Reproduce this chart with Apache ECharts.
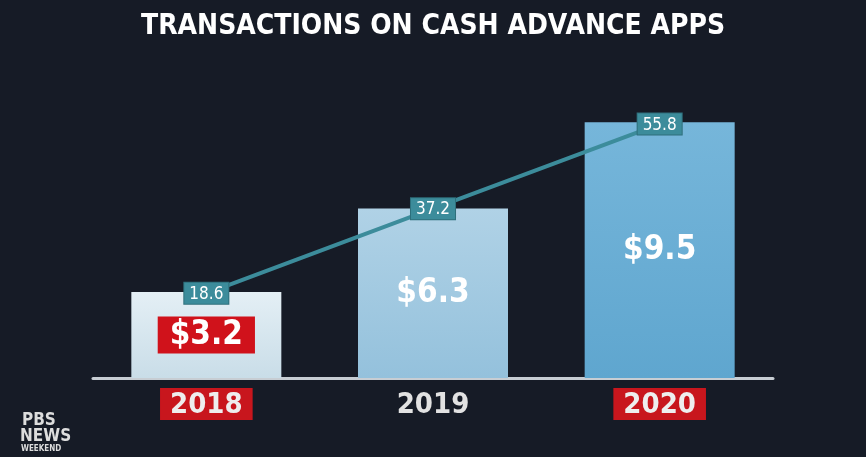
<!DOCTYPE html>
<html><head><meta charset="utf-8">
<script src="https://cdn.jsdelivr.net/npm/echarts@6/dist/echarts.min.js"></script>
<style>html,body{margin:0;background:#161b26}#c{width:866px;height:457px}</style>
</head><body><div id="c"></div>
<script>
const years = ['2018','2019','2020'];
const dollars = [3.2, 6.3, 9.5];
const transactions = [18.6, 37.2, 55.8];
const barColors = [['#e4eff5','#c9dde8'],['#b0d2e6','#94c1dc'],['#76b6da','#5fa6cf']];
const chart = echarts.init(document.getElementById('c'));
const F = 'DejaVu Sans Condensed, Roboto, sans-serif';
chart.setOption({
  backgroundColor: '#161b26',
  animation: false,
  title: {text: 'TRANSACTIONS ON CASH ADVANCE APPS', left: 'center', top: 8,
    textStyle: {color: '#fff', fontSize: 28, fontWeight: 'bold', fontFamily: F}},
  graphic: [
    {type: 'text', left: 22, top: 412, style: {text: 'PBS', fill: '#ddd', font: 'bold 17px ' + F}},
    {type: 'text', left: 20, top: 428, style: {text: 'NEWS', fill: '#ddd', font: 'bold 17px ' + F}},
    {type: 'text', left: 21, top: 445, style: {text: 'WEEKEND', fill: '#ddd', font: 'bold 8px ' + F}}
  ],
  grid: {left: 93, right: 93, top: 100, bottom: 79},
  xAxis: {type: 'category', data: years,
    axisLine: {lineStyle: {color: '#c7cdd3', width: 3}}, axisTick: {show: false},
    axisLabel: {margin: 10, fontSize: 29, fontWeight: 'bold', fontFamily: F,
      formatter: v => v === '2019' ? '{p|' + v + '}' : '{r|' + v + '}',
      rich: {r: {color: '#eee', backgroundColor: '#c8161d', padding: [3, 10, 0, 10], fontSize: 29, fontWeight: 'bold', fontFamily: F},
             p: {color: '#e2e2e2', padding: [3, 10, 0, 10], fontSize: 29, fontWeight: 'bold', fontFamily: F}}}},
  yAxis: [
    {type: 'value', min: 0, max: 10.33, show: false, splitLine: {show: false}},
    {type: 'value', min: 0, max: 61.1, show: false, splitLine: {show: false}}
  ],
  series: [
    {type: 'bar', barWidth: 150, yAxisIndex: 0,
      data: dollars.map((v, i) => ({value: v, itemStyle: {color: {type: 'linear', x: 0, y: 0, x2: 0, y2: 1,
        colorStops: [{offset: 0, color: barColors[i][0]}, {offset: 1, color: barColors[i][1]}]}},
        label: i === 0 ? {backgroundColor: '#d0121b', padding: [4, 12, 0, 12]} : {}})),
      label: {show: true, position: 'inside', formatter: p => '$' + p.value.toFixed(1),
        color: '#fff', fontSize: 33, fontWeight: 'bold', fontFamily: F}},
    {type: 'line', yAxisIndex: 1, data: transactions, symbol: 'circle', symbolSize: 1, showSymbol: true,
      itemStyle: {color: '#3c8c9b'},
      lineStyle: {color: '#3c8c9b', width: 4}, z: 5,
      label: {show: true, position: 'top', distance: -11, color: '#fff', fontSize: 17, fontFamily: F,
        backgroundColor: '#3c8c9b', padding: [3, 5, 1, 5], borderColor: '#2e6f7b', borderWidth: 1,
        formatter: p => p.value.toFixed(1)}}
  ]
});
</script></body></html>
